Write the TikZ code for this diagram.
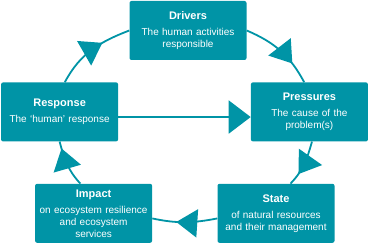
\documentclass[tikz,border=0pt]{standalone}
\usepackage{fontspec}
\setmainfont{Liberation Sans}
\usetikzlibrary{arrows.meta,positioning,decorations.markings}

\definecolor{ringteal}{RGB}{0,148,166}

\begin{document}
\begin{tikzpicture}[
    x=1pt, y=1pt,
    box/.style={rectangle, fill=ringteal, text=white, text width=113pt, inner sep=2pt, text centered, minimum height=59pt, rounded corners=2pt, font=\fontsize{10}{12}\selectfont},
    head/.style={font=\fontsize{11}{12}\selectfont\bfseries},
    link/.style={draw=ringteal, line width=1.8pt},
    mid arrow/.style={postaction={decorate}, decoration={markings, mark=at position #1 with {\arrow[ringteal]{Triangle[length=21pt,width=28pt]}}}}
]
\useasboundingbox (0,0) rectangle (370,-243);

% Boxes
\node[box] (drivers) at (188,-30.5) {{\fontsize{11}{12}\selectfont\bfseries Drivers}\\[4pt]The human activities\\responsible};
\node[box, below left=22pt and 11pt of drivers] (response) {{\fontsize{11}{12}\selectfont\bfseries Response}\\[4pt]The `human' response\\[8pt]};
\node[box, below right=22pt and 4pt of drivers] (pressures) {{\fontsize{11}{12}\selectfont\bfseries Pressures}\\[4pt]The cause of the\\problem(s)};
\node[box, below=42pt of response, xshift=34pt] (impact) {{\fontsize{11}{12}\selectfont\bfseries Impact}\\[4pt]on ecosystem resilience\\and ecosystem\\services};
\node[box, right=65pt of impact] (state) {{\fontsize{11}{12}\selectfont\bfseries State}\\[4pt]of natural resources\\and their management};

% Cycle
\draw[link, mid arrow=0.72] (drivers.east) to[out=-23, in=118] (pressures.100);
\draw[link, mid arrow=0.74] (pressures.-85) to[out=-106, in=46] (state.64);
\draw[link, mid arrow=0.63] (state.185) to[out=191, in=-12] (impact.-5);
\draw[link, mid arrow=0.85] (impact.114) to[out=133, in=-75] (response.south);
\draw[link, mid arrow=0.65] (response.80) to[out=62, in=-159] (drivers.west);

% Shortcut
\draw[link, -{Triangle[length=22pt,width=33pt]}] (response.-5) -- (response.-5 -| pressures.west);

\end{tikzpicture}
\end{document}
